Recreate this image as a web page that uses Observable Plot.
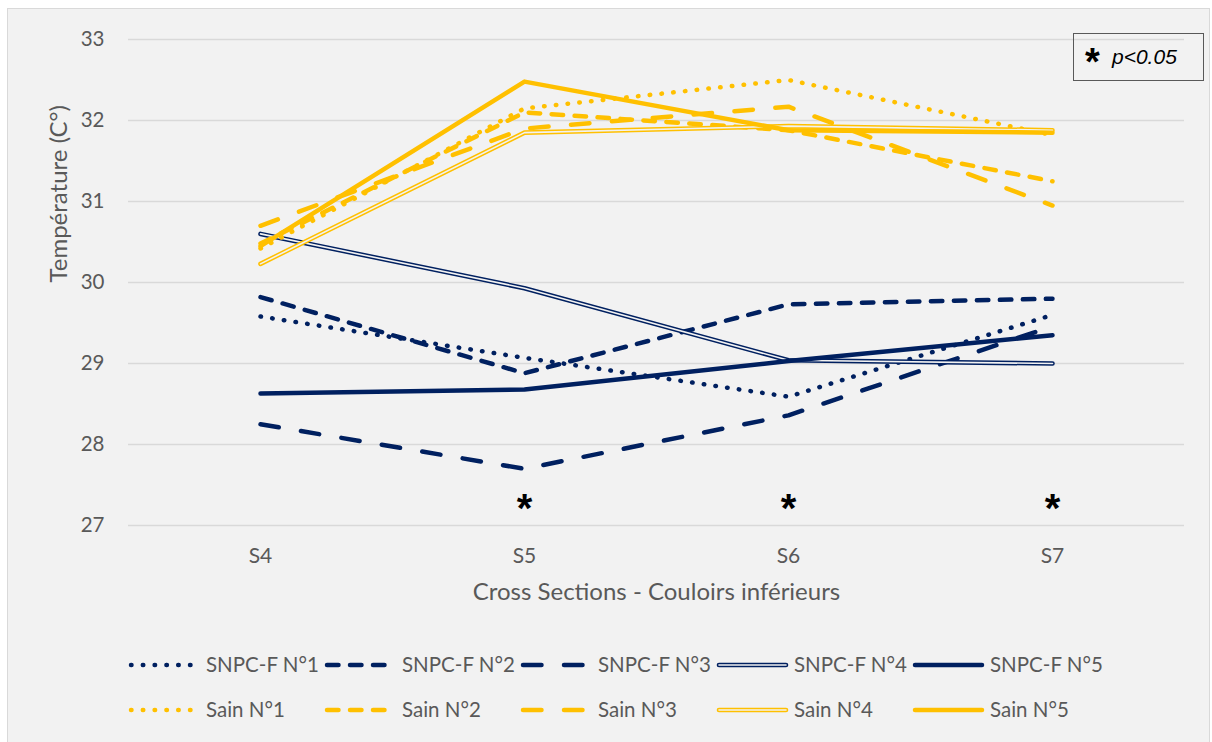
<!DOCTYPE html>
<html><head><meta charset="utf-8">
<script src="https://cdn.jsdelivr.net/npm/d3@7"></script>
<script src="https://cdn.jsdelivr.net/npm/@observablehq/plot@0.6"></script>
<style>
body{margin:0;background:#fff;}
#wrap{position:relative;width:1212px;height:742px;overflow:hidden;background:#fff;}
#frame{position:absolute;left:7px;top:8px;width:1203px;height:745px;background:#f2f2f2;border:1px solid #d9d9d9;box-sizing:border-box;}
#chart{position:absolute;left:0;top:0;}
#legend{position:absolute;left:0;top:620px;}
#sig{position:absolute;left:1073px;top:33px;width:131px;height:48px;border:1.5px solid #595959;box-sizing:border-box;}
#sig .st{position:absolute;left:11px;top:7px;font:bold 38px "Liberation Sans",sans-serif;color:#000;}
#sig .pv{position:absolute;left:38px;top:11px;font:italic 21px "Liberation Sans",sans-serif;color:#000;}
</style></head>
<body><div id="wrap"><div id="frame"></div><div id="chart"></div><svg id="legend" width="1212" height="122"></svg>
<div id="sig"><span class="st">*</span><span class="pv">p&lt;0.05</span></div></div>
<script>
// ---- data ----
const sections = ["S4", "S5", "S6", "S7"];
const snpc1 = [29.58, 29.07, 28.59, 29.6];
const snpc2 = [29.82, 28.88, 29.73, 29.8];
const snpc3 = [28.25, 27.7, 28.36, 29.46];
const snpc4 = [30.6, 29.93, 29.04, 29.0];
const snpc5 = [28.63, 28.68, 29.03, 29.35];
const sain1 = [30.42, 32.15, 32.5, 31.82];
const sain2 = [30.48, 32.1, 31.88, 31.25];
const sain3 = [30.7, 31.9, 32.17, 30.95];
const sain4 = [30.23, 31.85, 31.93, 31.88];
const sain5 = [30.45, 32.48, 31.88, 31.85];
const snpcNames = ["SNPC-F N°1", "SNPC-F N°2", "SNPC-F N°3", "SNPC-F N°4", "SNPC-F N°5"];
const sainNames = ["Sain N°1", "Sain N°2", "Sain N°3", "Sain N°4", "Sain N°5"];
const yTicks = [27, 28, 29, 30, 31, 32, 33];
const sigSections = ["S5", "S6", "S7"];
const sigLevel = 27.2;
const xTitle = "Cross Sections - Couloirs inférieurs";
const yTitle = "Température (C°)";

// ---- styles ----
const NAVY = "#002060", GOLD = "#FFC000", BG = "#f2f2f2", TXT = "#595959";
const SW = 4.5;
const styles = [
  {dash: "0.5,11.3"},
  {dash: "11.5,11.5"},
  {dash: "18.5,22.5"},
  {double: true},
  {}
];

const groups = [
  {names: snpcNames, values: [snpc1, snpc2, snpc3, snpc4, snpc5], color: NAVY},
  {names: sainNames, values: [sain1, sain2, sain3, sain4, sain5], color: GOLD}
];

const lineMarks = [];
for (const g of groups) {
  g.values.forEach((vals, i) => {
    const data = sections.map((s, j) => ({section: s, value: vals[j], series: g.names[i]}));
    const st = styles[i];
    const common = {x: "section", y: "value", strokeLinecap: "round", strokeLinejoin: "round"};
    if (st.double) {
      lineMarks.push(Plot.line(data, {...common, stroke: g.color, strokeWidth: 4.6}));
      lineMarks.push(Plot.line(data, {...common, stroke: BG, strokeWidth: 1.6}));
    } else {
      lineMarks.push(Plot.line(data, {...common, stroke: g.color, strokeWidth: SW, strokeDasharray: st.dash}));
    }
  });
}

const chart = Plot.plot({
  width: 1212, height: 620,
  marginLeft: 128, marginRight: 28, marginTop: 39, marginBottom: 95,
  style: {background: "transparent", fontFamily: "Lato, sans-serif", fontSize: "20px", color: TXT, overflow: "visible"},
  x: {type: "point", domain: sections, padding: 0.5},
  y: {domain: [27, 33]},
  marks: [
    Plot.ruleY(yTicks, {stroke: "#d9d9d9", strokeWidth: 1.5}),
    Plot.axisY({ticks: yTicks, tickFormat: d => String(d), tickSize: 0, tickPadding: 24, label: null, fill: TXT, fontSize: 20.5}),
    Plot.axisX({tickSize: 0, tickPadding: 23, label: null, fill: TXT, fontSize: 21}),
    ...lineMarks,
    Plot.text(sigSections, {x: d => d, y: () => sigLevel, text: () => "*", fontSize: 40, fontWeight: "bold", fontFamily: "Liberation Sans, sans-serif", fill: "#000"}),
    Plot.text([xTitle], {frameAnchor: "bottom", dy: 74, text: d => d, fill: TXT, fontSize: 24}),
    Plot.text([yTitle], {frameAnchor: "left", dx: -69, rotate: -90, text: d => d, fill: TXT, fontSize: 24})
  ]
});
document.getElementById("chart").appendChild(chart);

// ---- legend ----
const leg = d3.select("#legend");
const rowY = [45, 90];
const colX = d => 129 + 196 * d;
groups.forEach((g, r) => {
  g.names.forEach((name, i) => {
    const x0 = colX(i), y = rowY[r], st = styles[i];
    const ln = (w, c, dash) => leg.append("line").attr("x1", x0 + 2).attr("x2", x0 + 69).attr("y1", y).attr("y2", y)
      .attr("stroke", c).attr("stroke-width", w).attr("stroke-linecap", "round").attr("stroke-dasharray", dash || null);
    if (st.double) { ln(4.6, g.color); ln(1.6, BG); }
    else ln(SW, g.color, st.dash);
    leg.append("text").attr("x", x0 + 77).attr("y", y).attr("dy", "0.35em")
      .attr("fill", TXT).attr("font-family", "Lato, sans-serif").attr("font-size", 20.5).text(name);
  });
});
</script>
</body></html>
